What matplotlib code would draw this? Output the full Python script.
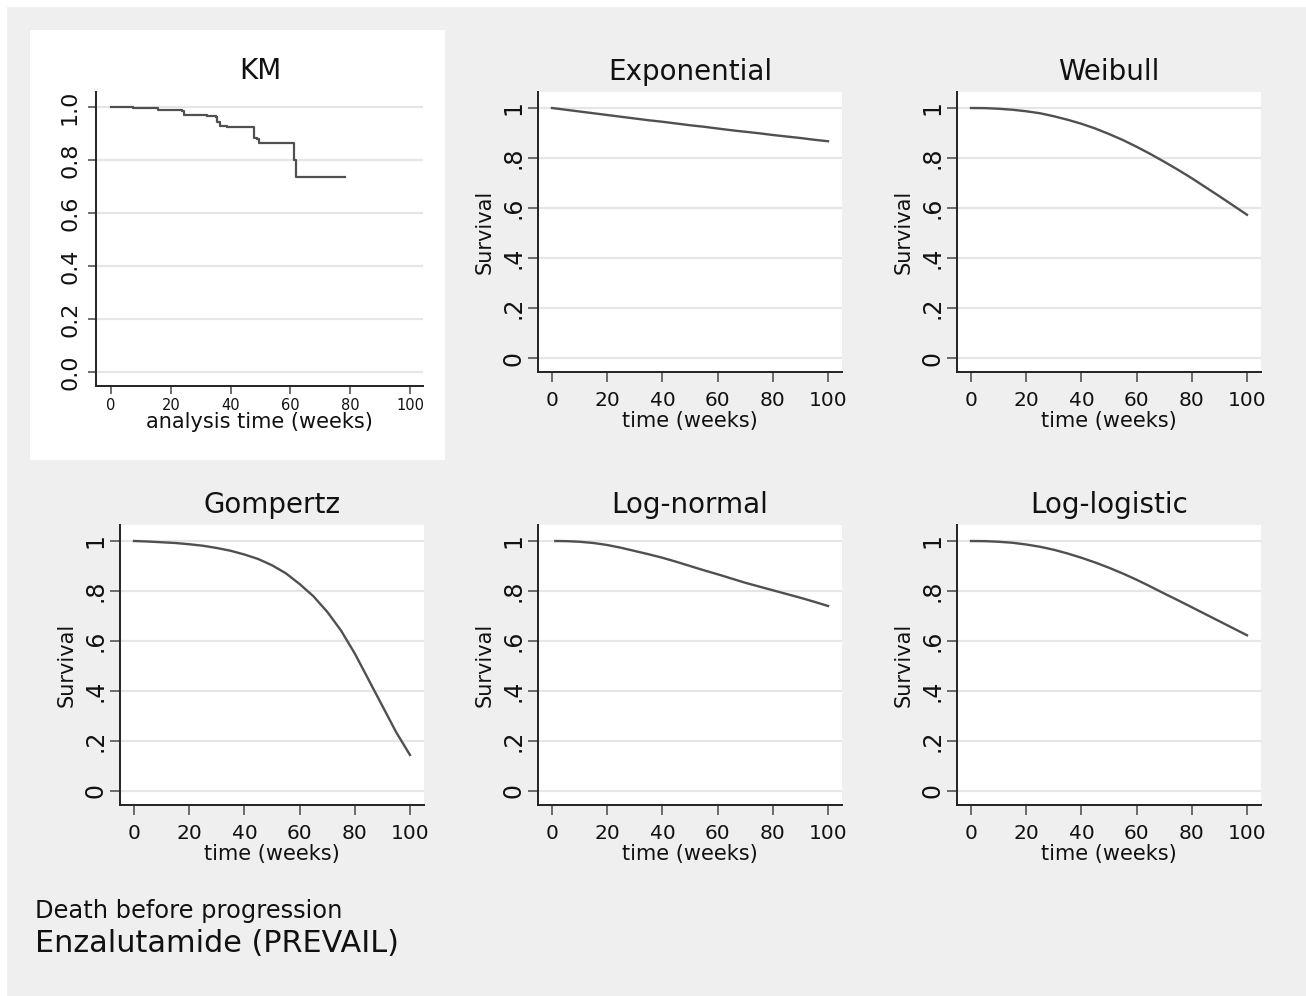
import matplotlib
matplotlib.use("Agg")
import matplotlib.pyplot as plt
from matplotlib.patches import Rectangle

W, H, DPI = 1306, 996, 100

# ---- data -------------------------------------------------------------
# Kaplan-Meier estimate (step function, survival after each event time)
km_time = [0, 7.5, 15.8, 23.6, 24.4, 32.0, 35.0, 35.6, 36.3, 38.8,
           47.9, 48.7, 49.5, 61.3, 61.8, 78.3]
km_surv = [1.000, 0.996, 0.990, 0.985, 0.971, 0.968, 0.962, 0.945, 0.930, 0.926,
           0.885, 0.879, 0.866, 0.800, 0.735, 0.735]

# Fitted parametric survival curves (weeks)
fit_time = [0, 5, 10, 15, 20, 25, 30, 35, 40, 45, 50,
            55, 60, 65, 70, 75, 80, 85, 90, 95, 100]
lognorm_time = [1.2, 5, 10, 15, 20, 25, 30, 35, 40, 45, 50,
                55, 60, 65, 70, 75, 80, 85, 90, 95, 100]

exponential = [1.000, 0.993, 0.986, 0.979, 0.972, 0.965, 0.958, 0.951, 0.945, 0.938, 0.931,
               0.925, 0.918, 0.911, 0.905, 0.899, 0.892, 0.886, 0.880, 0.873, 0.867]
weibull = [1.000, 0.9995, 0.997, 0.993, 0.987, 0.979, 0.967, 0.953, 0.937, 0.918, 0.896,
           0.872, 0.845, 0.816, 0.785, 0.753, 0.719, 0.683, 0.647, 0.610, 0.573]
gompertz = [1.000, 0.998, 0.995, 0.992, 0.987, 0.981, 0.972, 0.961, 0.946, 0.928, 0.903,
            0.871, 0.828, 0.779, 0.717, 0.642, 0.550, 0.445, 0.340, 0.235, 0.144]
lognormal = [1.000, 0.9995, 0.997, 0.992, 0.984, 0.973, 0.960, 0.947, 0.933, 0.917, 0.900,
             0.883, 0.867, 0.850, 0.833, 0.818, 0.803, 0.788, 0.773, 0.757, 0.740]
loglogistic = [1.000, 0.9994, 0.997, 0.993, 0.986, 0.977, 0.965, 0.950, 0.933, 0.914, 0.893,
               0.870, 0.845, 0.818, 0.790, 0.763, 0.735, 0.707, 0.679, 0.651, 0.623]

x_ticks = [0, 20, 40, 60, 80, 100]
x_tick_labels = ["0", "20", "40", "60", "80", "100"]
y_ticks = [0, 0.2, 0.4, 0.6, 0.8, 1.0]
fit_y_labels = ["0", ".2", ".4", ".6", ".8", "1"]
km_y_labels = ["0.0", "0.2", "0.4", "0.6", "0.8", "1.0"]

footer_small = "Death before progression"
footer_large = "Enzalutamide (PREVAIL)"

# ---- styling ----------------------------------------------------------
plt.rcParams["font.family"] = ["DejaVu Sans"]
BG = "#efefef"
LINE = "#505050"
GRID = "#e6e6e6"
SPINE = "#222222"
TICK = "#555555"
TEXT = "#111111"


def box(x0, y0, x1, y1):
    """Pixel box (top-left origin) -> figure fraction rect."""
    return [x0 / W, 1 - y1 / H, (x1 - x0) / W, (y1 - y0) / H]


def fx(x):
    return x / W


def fy(y):
    return 1 - y / H


fig = plt.figure(figsize=(W / DPI, H / DPI), dpi=DPI)
fig.patch.set_facecolor("white")
fig.patches.append(Rectangle((fx(7), fy(H)), fx(W) - fx(7), fy(7) - fy(H),
                             transform=fig.transFigure, facecolor=BG,
                             edgecolor="none", zorder=-10))
# white backdrop of the KM graph
fig.patches.append(Rectangle((fx(30), fy(460)), fx(445) - fx(30), fy(30) - fy(460),
                             transform=fig.transFigure, facecolor="white",
                             edgecolor="none", zorder=-9))


def style_axes(ax, ylabels, ytick_size, xtick_size, tick_len, ypad, xpad):
    ax.set_facecolor("white")
    for s in ("top", "right"):
        ax.spines[s].set_visible(False)
    for s in ("left", "bottom"):
        ax.spines[s].set_color(SPINE)
        ax.spines[s].set_linewidth(1.4)
    ax.set_xticks(x_ticks)
    ax.set_xticklabels(x_tick_labels, fontsize=xtick_size, color=TEXT)
    ax.set_yticks(y_ticks)
    ax.set_yticklabels(ylabels, fontsize=ytick_size, rotation=90, va="center",
                       color=TEXT)
    ax.tick_params(axis="both", direction="out", length=tick_len, width=1.2,
                   color=TICK)
    ax.tick_params(axis="y", pad=ypad)
    ax.tick_params(axis="x", pad=xpad)
    ax.grid(axis="y", color=GRID, linewidth=1.6)
    ax.set_axisbelow(True)


# ---- KM panel ---------------------------------------------------------
ax = fig.add_axes(box(96, 92, 423, 386))
ax.step(km_time, km_surv, where="post", color=LINE, linewidth=1.6)
ax.set_xlim(-5, 104.3)
ax.set_ylim(-0.053, 1.057)
style_axes(ax, km_y_labels, 16, 10.5, 6, 5.5, 2.5)
ax.set_xlabel("analysis time (weeks)", fontsize=15, color=TEXT)
ax.xaxis.set_label_coords(0.5, -0.1224)
ax.xaxis.label.set_verticalalignment("center")
fig.text(fx(260), fy(79), "KM", fontsize=20, ha="center", va="baseline",
         color=TEXT)

# ---- parametric panels -------------------------------------------------
panels = [
    ("Exponential", fit_time, exponential, 552, 92, 80),
    ("Weibull", fit_time, weibull, 971, 92, 80),
    ("Gompertz", fit_time, gompertz, 134, 525, 513),
    ("Log-normal", lognorm_time, lognormal, 552, 525, 513),
    ("Log-logistic", fit_time, loglogistic, 971, 525, 513),
]
PX_PER_WEEK = 2.76
for title, t, s, x_zero, top, base in panels:
    x0 = x_zero - 5 * PX_PER_WEEK
    x1 = x_zero + 105 * PX_PER_WEEK
    ax = fig.add_axes(box(x0, top, x1, top + 280))
    ax.plot(t, s, color=LINE, linewidth=1.7)
    ax.set_xlim(-5, 105)
    ax.set_ylim(-0.056, 1.064)
    style_axes(ax, fit_y_labels, 17, 14.5, 7.5, 1.5, 6.5)
    ax.set_ylabel("Survival", fontsize=15, color=TEXT)
    ax.yaxis.set_label_coords(-0.178, 0.5)
    ax.yaxis.label.set_verticalalignment("center")
    ax.set_xlabel("time (weeks)", fontsize=15, color=TEXT)
    ax.xaxis.set_label_coords(0.5, -0.175)
    ax.xaxis.label.set_verticalalignment("center")
    fig.text(fx((x0 + x1) / 2), fy(base), title, fontsize=20,
             ha="center", va="baseline", color=TEXT)

# ---- notes ------------------------------------------------------------
fig.text(fx(35), fy(918), footer_small, fontsize=17.4, ha="left",
         va="baseline", color=TEXT)
fig.text(fx(35), fy(952), footer_large, fontsize=21.8, ha="left",
         va="baseline", color=TEXT)

fig.savefig("out.png", dpi=DPI, facecolor=fig.get_facecolor())
